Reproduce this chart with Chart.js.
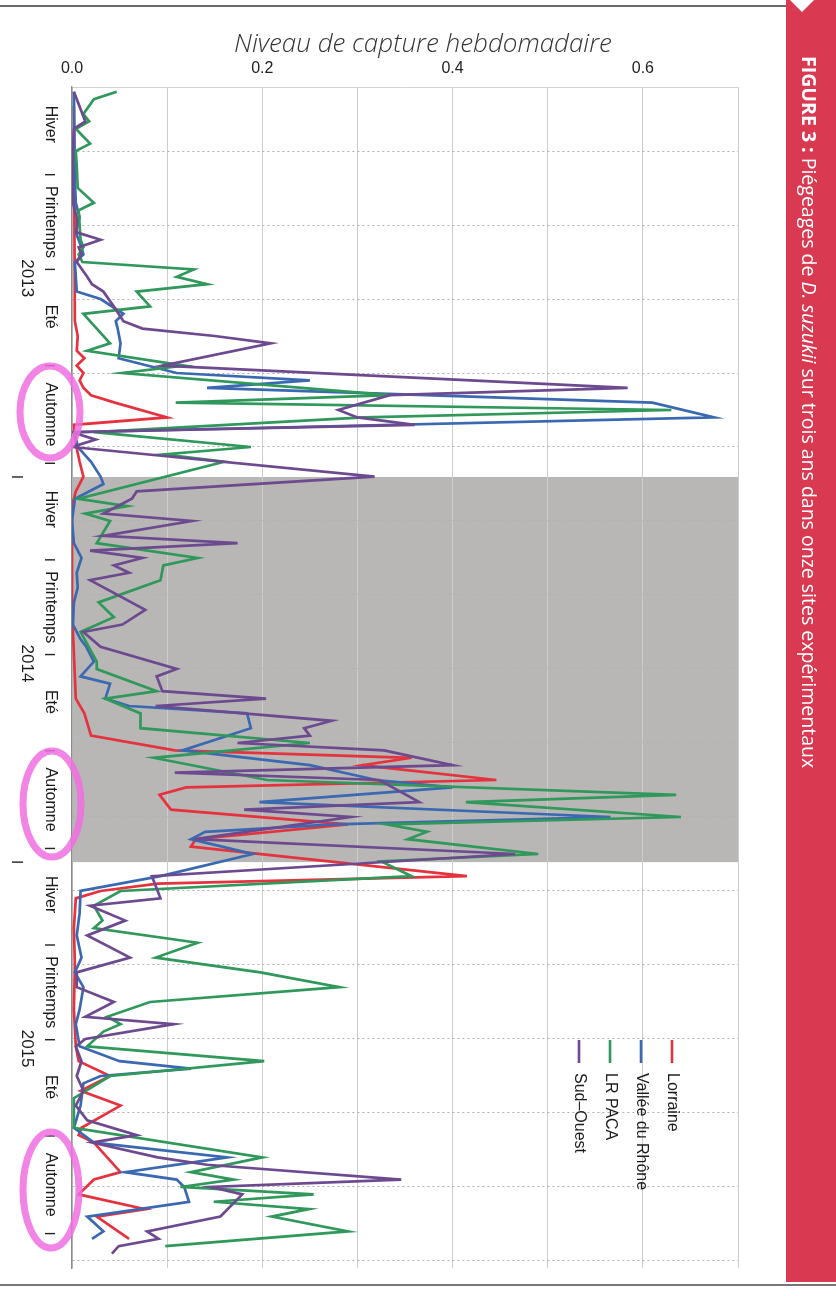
<!DOCTYPE html>
<html lang="fr">
<head>
<meta charset="utf-8">
<title>Piégeages de D. suzukii</title>
<script src="https://cdn.jsdelivr.net/npm/chart.js@4.4.1/dist/chart.umd.min.js"></script>
<style>
  html, body { margin: 0; padding: 0; background: #fff; }
  #page { position: relative; width: 836px; height: 1296px; overflow: hidden; background: #fff; }
  #chart { position: absolute; left: 0; top: 0; }
  #edgeTop { position: absolute; left: 0; top: 5px; width: 788px; height: 2px; background: #6a6a6a; }
  #edgeBottom { position: absolute; left: 0; top: 1284px; width: 836px; height: 2px; background: #777; }
  #sidebar {
    position: absolute; left: 786px; top: 0; width: 50px; height: 1282px; background: #d93a52;
    clip-path: polygon(0 0, 4px 0, 16px 12px, 28px 0, 100% 0, 100% 100%, 0 100%);
  }
  #caption {
    position: absolute; left: 796px; top: 56px; writing-mode: vertical-rl;
    color: #fff; font: 19.5px 'Open Sans', sans-serif; white-space: nowrap;
  }
  #caption b { font-weight: 700; }
</style>
</head>
<body>
<div id="page">
  <canvas id="chart" width="836" height="1296"></canvas>
  <div id="edgeTop"></div>
  <div id="edgeBottom"></div>
  <div id="sidebar"></div>
  <div id="caption"><b>FIGURE 3 :</b> Piégeages de <i>D. suzukii</i> sur trois ans dans onze sites expérimentaux</div>
</div>
<script>
// weekly trap catches, week 0 = first week of 2013
const lorraineWeeks = [2, 31, 33, 35, 36, 37, 38, 39, 40, 41, 42, 44, 45, 47, 50, 52, 54, 56, 70, 82, 84, 87, 89, 90, 91, 93, 94, 95, 97, 99, 101, 102, 106, 107, 108, 109, 113, 118, 124, 129, 131, 133, 135, 137, 140, 141, 142, 146, 147, 149, 151, 152, 155];
const lorraineLevels = [0.002, 0.003, 0.006, 0.005, 0.013, 0.005, 0.012, 0.008, 0.012, 0.02, 0.045, 0.10, 0.002, 0.003, 0.008, 0.012, 0.004, 0.0, 0.0, 0.004, 0.013, 0.02, 0.108, 0.357, 0.305, 0.446, 0.12, 0.092, 0.104, 0.29, 0.13, 0.125, 0.415, 0.09, 0.03, 0.004, 0.002, 0.003, 0.002, 0.004, 0.007, 0.04, 0.009, 0.051, 0.01, 0.007, 0.023, 0.051, 0.023, 0.007, 0.077, 0.026, 0.06];

const rhoneWeeks = [0, 12, 15, 17, 19, 21, 22, 23, 27, 28, 30, 31, 32, 34, 36, 38, 39, 40, 42, 44, 46, 48, 50, 52, 53, 55, 58, 61, 63, 65, 67, 69, 72, 74, 75, 77, 79, 80, 82, 83, 84, 86, 89, 91, 93, 94, 96, 98, 99, 100, 101, 103, 106, 108, 111, 114, 117, 119, 121, 124, 126, 129, 131, 132, 133, 134, 137, 140, 142, 144, 146, 147, 148, 150, 152, 154, 155];
const rhoneLevels = [0.002, 0.003, 0.004, 0.008, 0.004, 0.01, 0.012, 0.003, 0.005, 0.03, 0.054, 0.046, 0.048, 0.051, 0.049, 0.11, 0.25, 0.142, 0.61, 0.675, 0.003, 0.006, 0.02, 0.03, 0.033, 0.003, 0.0, 0.002, 0.01, 0.005, 0.006, 0.002, 0.001, 0.009, 0.015, 0.023, 0.009, 0.04, 0.035, 0.06, 0.184, 0.188, 0.116, 0.25, 0.32, 0.40, 0.197, 0.566, 0.275, 0.14, 0.125, 0.19, 0.093, 0.009, 0.008, 0.005, 0.01, 0.003, 0.012, 0.008, 0.004, 0.008, 0.05, 0.125, 0.03, 0.012, 0.009, 0.002, 0.023, 0.163, 0.056, 0.11, 0.118, 0.123, 0.016, 0.033, 0.021];

const pacaWeeks = [0, 1, 3, 4, 5, 7, 8, 10, 13, 15, 16, 20, 21, 22, 23, 24, 25, 26, 27, 29, 30, 34, 35, 37, 38, 41, 42, 43, 44, 46, 48, 49, 50, 55, 56, 57, 58, 61, 63, 64, 66, 69, 71, 73, 77, 78, 81, 82, 84, 86, 88, 90, 93, 95, 96, 98, 99, 100, 101, 103, 104, 106, 108, 110, 112, 113, 115, 117, 119, 121, 123, 125, 126, 127, 129, 131, 133, 136, 140, 144, 146, 147, 148, 149, 150, 151, 152, 154, 156];
const pacaLevels = [0.047, 0.023, 0.012, 0.018, 0.004, 0.019, 0.004, 0.005, 0.006, 0.023, 0.007, 0.009, 0.012, 0.007, 0.011, 0.128, 0.11, 0.142, 0.068, 0.082, 0.012, 0.04, 0.016, 0.118, 0.053, 0.334, 0.109, 0.63, 0.307, 0.023, 0.188, 0.096, 0.16, 0.007, 0.058, 0.014, 0.04, 0.026, 0.132, 0.096, 0.093, 0.028, 0.044, 0.009, 0.026, 0.026, 0.089, 0.035, 0.072, 0.072, 0.25, 0.086, 0.205, 0.635, 0.414, 0.64, 0.33, 0.373, 0.353, 0.49, 0.325, 0.357, 0.051, 0.023, 0.032, 0.023, 0.132, 0.088, 0.198, 0.281, 0.082, 0.037, 0.051, 0.033, 0.016, 0.202, 0.04, 0.002, 0.002, 0.2, 0.125, 0.17, 0.114, 0.254, 0.149, 0.249, 0.21, 0.29, 0.098];

const sudOuestWeeks = [0, 4, 5, 10, 15, 17, 19, 20, 21, 22, 23, 25, 26, 27, 29, 31, 32, 33, 34, 37, 40, 41, 43, 44, 45, 46, 47, 48, 52, 54, 55, 57, 58, 60, 61, 62, 63, 64, 65, 66, 70, 72, 73, 75, 78, 79, 81, 82, 83, 85, 86, 87, 88, 89, 91, 92, 93, 96, 97, 98, 101, 103, 106, 109, 110, 112, 114, 117, 119, 121, 123, 125, 126, 128, 129, 131, 133, 135, 137, 139, 141, 142, 144, 145, 147, 148, 149, 152, 154, 155, 156, 157];
const sudOuestLevels = [0.002, 0.014, 0.002, 0.0, 0.001, 0.005, 0.005, 0.03, 0.007, 0.01, 0.005, 0.016, 0.021, 0.033, 0.044, 0.054, 0.074, 0.15, 0.209, 0.095, 0.584, 0.334, 0.28, 0.30, 0.36, 0.0, 0.025, 0.0, 0.318, 0.068, 0.063, 0.033, 0.126, 0.033, 0.174, 0.019, 0.074, 0.044, 0.06, 0.019, 0.077, 0.053, 0.012, 0.03, 0.11, 0.089, 0.095, 0.204, 0.088, 0.273, 0.244, 0.25, 0.174, 0.328, 0.40, 0.108, 0.323, 0.365, 0.181, 0.293, 0.129, 0.466, 0.084, 0.093, 0.019, 0.056, 0.016, 0.061, 0.005, 0.005, 0.044, 0.014, 0.107, 0.014, 0.004, 0.01, 0.005, 0.012, 0.004, 0.016, 0.068, 0.021, 0.09, 0.142, 0.346, 0.146, 0.179, 0.156, 0.079, 0.091, 0.049, 0.042];

const seriesNames = ['Lorraine', 'Vallée du Rhône', 'LR PACA', 'Sud\u2013Ouest'];
const seriesColors = ['#e5323f', '#3a69b2', '#2f985a', '#6d4a90'];
const seriesWeeks = [lorraineWeeks, rhoneWeeks, pacaWeeks, sudOuestWeeks];
const seriesLevels = [lorraineLevels, rhoneLevels, pacaLevels, sudOuestLevels];

const valueTicks = [0, 0.1, 0.2, 0.3, 0.4, 0.5, 0.6, 0.7];
const gridWeeks = [8, 18, 28, 38, 48, 58, 68, 78, 88, 98, 108, 118, 128, 138, 148, 158];
const years = ['2013', '2014', '2015'];
const seasons = ['Hiver', 'Printemps', 'Et\u00e9', 'Automne'];
const seasonMid = [4.4, 17.6, 30.4, 43.6];     // week within the year
const seasonEnd = [11.2, 24, 37, 50.2];
const weeksPerYear = 52.05;
const shadeFrom = 52.05, shadeTo = 104.1;     // 2014 shaded
const axisTitle = 'Niveau de capture hebdomadaire';

const sans = "'Liberation Sans', Arial, sans-serif";

const shadePlugin = {
    id: 'shade2014',
    beforeDraw(chart) {
        const { ctx, chartArea, scales } = chart;
        const y0 = scales.y.getPixelForValue(shadeFrom);
        const y1 = scales.y.getPixelForValue(shadeTo);
        ctx.save();
        ctx.fillStyle = '#b8b7b5';
        ctx.fillRect(chartArea.left, y0, chartArea.right - chartArea.left, y1 - y0);
        ctx.restore();
    }
};

// axis title, time axis (rotated labels), legend and the pink highlighter marks
const sidePlugin = {
    id: 'sideLabels',
    afterDraw(chart) {
        const { ctx, scales } = chart;
        const py = w => scales.y.getPixelForValue(w);
        const rotText = (txt, x, y, align, font, color) => {
            ctx.save();
            ctx.translate(x, y);
            ctx.rotate(Math.PI / 2);
            ctx.font = font;
            ctx.fillStyle = color;
            ctx.textAlign = align;
            ctx.textBaseline = 'middle';
            ctx.fillText(txt, 0, 0);
            ctx.restore();
        };

        ctx.save();
        ctx.font = "italic 300 26px 'Open Sans', sans-serif";
        ctx.fillStyle = '#333';
        ctx.textAlign = 'center';
        ctx.textBaseline = 'middle';
        ctx.fillText(axisTitle, 423, 45);
        ctx.restore();

        ctx.save();
        ctx.strokeStyle = '#222';
        ctx.lineWidth = 1.4;
        years.forEach((yr, k) => {
            const off = k * weeksPerYear;
            seasons.forEach((s, i) => {
                rotText(s, 50, py(off + seasonMid[i]), 'center', '16px ' + sans, '#1a1a1a');
                const ty = py(off + seasonEnd[i]);
                ctx.beginPath(); ctx.moveTo(45, ty); ctx.lineTo(55, ty); ctx.stroke();
            });
            rotText(yr, 27, py(off + 25.2), 'center', '17px ' + sans, '#1a1a1a');
            if (k > 0) {
                const sy = py(off);
                ctx.beginPath(); ctx.moveTo(12, sy); ctx.lineTo(23, sy); ctx.stroke();
            }
        });
        ctx.restore();

        // legend
        seriesNames.forEach((name, i) => {
            const x = 672 - i * 31;
            ctx.save();
            ctx.strokeStyle = seriesColors[i];
            ctx.lineWidth = 2.6;
            ctx.beginPath(); ctx.moveTo(x, 1040); ctx.lineTo(x, 1063); ctx.stroke();
            ctx.restore();
            rotText(name, x, 1073, 'left', '16px ' + sans, '#1a1a1a');
        });

        // highlighter circles around "Automne"
        ctx.save();
        ctx.strokeStyle = 'rgba(240, 110, 225, 0.85)';
        ctx.lineWidth = 7;
        [[50, 412, 30, 46], [52, 804, 29, 53], [51, 1190, 28, 58]].forEach(e => {
            ctx.beginPath();
            ctx.ellipse(e[0], e[1], e[2], e[3], 0, 0, Math.PI * 2);
            ctx.stroke();
        });
        ctx.restore();
    }
};

const datasets = seriesNames.map((name, i) => ({
    label: name,
    data: seriesWeeks[i].map((w, j) => ({ x: seriesLevels[i][j], y: w })),
    borderColor: seriesColors[i],
    backgroundColor: seriesColors[i],
    showLine: true,
    borderWidth: 2.7,
    pointRadius: 0,
    tension: 0,
    order: 3 - i
}));

const ctx = document.getElementById('chart').getContext('2d');
window.captureChart = new Chart(ctx, {
    type: 'scatter',
    data: { datasets },
    options: {
        responsive: false,
        animation: false,
        layout: { padding: { left: 72, right: 98, top: 0, bottom: 28 } },
        plugins: { legend: { display: false }, tooltip: { enabled: false } },
        scales: {
            x: {
                type: 'linear',
                position: 'top',
                min: 0,
                max: 0.7,
                afterBuildTicks: s => { s.ticks = valueTicks.map(v => ({ value: v })); },
                afterFit: s => { s.height = 87; },
                ticks: {
                    autoSkip: false,
                    padding: 9,
                    color: '#222',
                    font: { family: "'Liberation Sans Narrow', 'Liberation Sans', sans-serif", size: 16 },
                    callback: v => { const k = Math.round(v * 10); return k % 2 === 0 ? (k / 10).toFixed(1) : ''; }
                },
                grid: { color: '#cccccc', lineWidth: 1, drawTicks: false },
                border: { display: true, color: '#d2d2d2' }
            },
            y: {
                type: 'linear',
                reverse: true,
                min: -0.65,
                max: 158.95,
                afterBuildTicks: s => { s.ticks = gridWeeks.map(v => ({ value: v })); },
                afterFit: s => { s.width = 0; },
                ticks: { display: false },
                grid: { color: '#b0b0b0', lineWidth: 1, drawTicks: false },
                border: { display: true, color: '#8c8c8c', width: 1.4, dash: [2, 3] }
            }
        }
    },
    plugins: [shadePlugin, sidePlugin]
});
</script>
</body>
</html>
